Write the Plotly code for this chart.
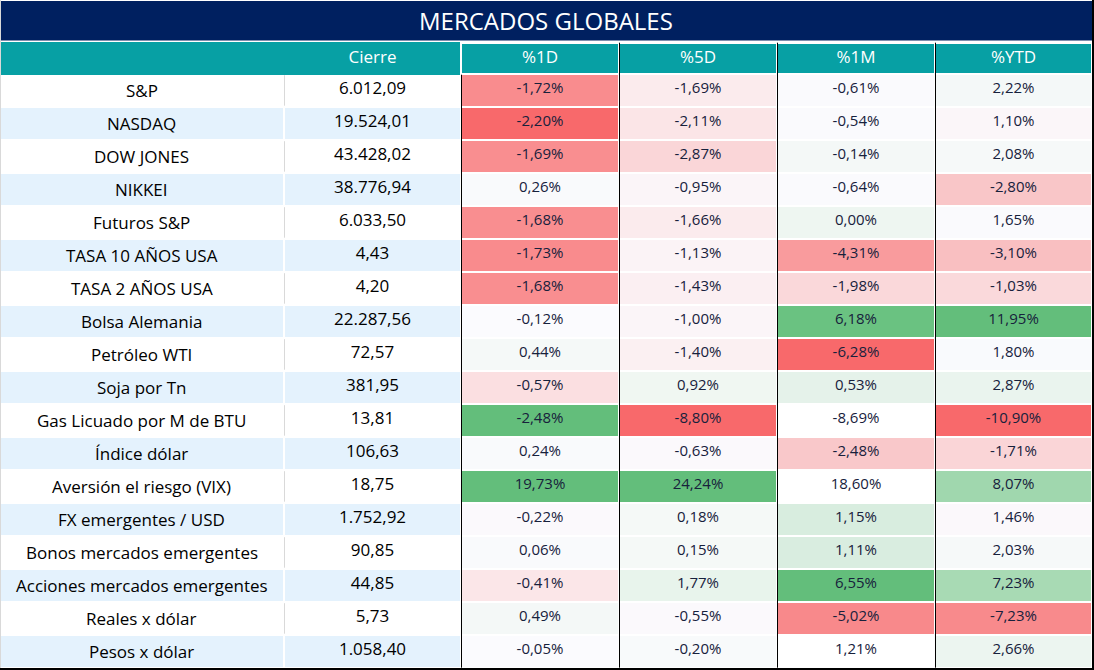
import plotly.graph_objects as go

# ---------------- data ----------------
activos = ["S&P", "NASDAQ", "DOW JONES", "NIKKEI", "Futuros S&P", "TASA 10 AÑOS USA",
           "TASA 2 AÑOS USA", "Bolsa Alemania", "Petróleo WTI", "Soja por Tn",
           "Gas Licuado por M de BTU", "Índice dólar", "Aversión el riesgo (VIX)",
           "FX emergentes / USD", "Bonos mercados emergentes", "Acciones mercados emergentes",
           "Reales x dólar", "Pesos x dólar"]
cierre = [6012.09, 19524.01, 43428.02, 38776.94, 6033.50, 4.43, 4.20, 22287.56, 72.57,
          381.95, 13.81, 106.63, 18.75, 1752.92, 90.85, 44.85, 5.73, 1058.40]
var_1d = [-1.72, -2.20, -1.69, 0.26, -1.68, -1.73, -1.68, -0.12, 0.44, -0.57, -2.48,
          0.24, 19.73, -0.22, 0.06, -0.41, 0.49, -0.05]
var_5d = [-1.69, -2.11, -2.87, -0.95, -1.66, -1.13, -1.43, -1.00, -1.40, 0.92, -8.80,
          -0.63, 24.24, 0.18, 0.15, 1.77, -0.55, -0.20]
var_1m = [-0.61, -0.54, -0.14, -0.64, 0.00, -4.31, -1.98, 6.18, -6.28, 0.53, -8.69,
          -2.48, 18.60, 1.15, 1.11, 6.55, -5.02, 1.21]
var_ytd = [2.22, 1.10, 2.08, -2.80, 1.65, -3.10, -1.03, 11.95, 1.80, 2.87, -10.90,
           -1.71, 8.07, 1.46, 2.03, 7.23, -7.23, 2.66]
encabezados = ["", "Cierre", "%1D", "%5D", "%1M", "%YTD"]
titulo = "MERCADOS GLOBALES"

# ---------------- styles (cell fills) ----------------
fill_1d = ["#F98C8E", "#F8696B", "#F98E90", "#F9FAFC", "#F98E90", "#F98B8D", "#F98E90",
           "#FBFBFE", "#F5F9F8", "#FBDFE1", "#63BE7B", "#F9FAFC", "#63BE7B", "#FBF9FC",
           "#F9FAFC", "#FBE6E8", "#F4F8F7", "#FBFBFE"]
fill_5d = ["#FBEBED", "#FBE5E7", "#FAD6D8", "#FBF5F8", "#FBEBED", "#FBF3F6", "#FBEFF2",
           "#FBF5F8", "#FBF0F2", "#F0F7F2", "#F8696B", "#FBF9FC", "#63BE7B", "#F5F9F7",
           "#F5F9F7", "#E8F4EC", "#FBF9FC", "#F8FAFB"]
fill_1m = ["#FAFAFD", "#FAFAFD", "#F4F8F7", "#FAFAFD", "#EEF6F1", "#F99B9D", "#FAD8DA",
           "#6AC281", "#F8696B", "#E5F2EA", "#FFFFFF", "#F9C8CA", "#FFFFFF", "#D8EDDF",
           "#D9EDE0", "#63BE7B", "#F8898B", "#FFFFFF"]
fill_ytd = ["#F4F8F8", "#FBF6F9", "#F6F9F9", "#F9C6C8", "#FAFAFD", "#F9BFC1", "#FAD9DB",
            "#63BE7B", "#F9FAFD", "#EAF4EE", "#F8696B", "#FAD5D7", "#A0D7AE", "#FBF8FB",
            "#F6F9F9", "#A8DAB4", "#F88A8C", "#ECF5F0"]

NAVY = "#002060"
TEAL = "#07A0A4"
LIGHT = "#E4F2FD"
FONT = "Open Sans"

W, H = 1094, 670
col_px = [284, 177, 158, 158, 158, 157]
TITLE_H = 40.5
TABLE_TOP = 42.7
HEADER_H = 31
ROW_H = 33


def fmt_num(v):
    s = f"{v:,.2f}"
    return s.replace(",", "X").replace(".", ",").replace("X", ".")


def fmt_pct(v):
    return fmt_num(v) + "%"


row_fill = [("#FFFFFF" if i % 2 == 0 else LIGHT) for i in range(len(activos))]

# names are written as annotations over the first column (plotly tables treat "&" as
# markup and would enlarge those rows)
cells_values = [["" for _ in activos],
                [fmt_num(v) for v in cierre],
                [fmt_pct(v) for v in var_1d], [fmt_pct(v) for v in var_5d],
                [fmt_pct(v) for v in var_1m], [fmt_pct(v) for v in var_ytd]]
cells_fill = [row_fill, row_fill, fill_1d, fill_5d, fill_1m, fill_ytd]

x_right = (W - 2) / W
y_top = (H - TABLE_TOP) / H

fig = go.Figure()
fig.add_trace(go.Table(
    domain=dict(x=[0, x_right], y=[0, y_top]),
    columnwidth=col_px,
    header=dict(
        values=encabezados,
        fill_color=TEAL,
        font=dict(family=FONT, size=17, color="white"),
        align="center",
        height=HEADER_H,
        line=dict(color=[TEAL, TEAL, "white", "white", "white", "white"], width=2),
    ),
    cells=dict(
        values=cells_values,
        fill_color=cells_fill,
        font=dict(family=FONT, size=[17, 17, 15, 15, 15, 15],
                  color=["#000000", "#000000", "#17213C", "#17213C", "#17213C", "#17213C"]),
        align="center",
        height=ROW_H,
        line=dict(color="white", width=2),
    ),
))

shapes = []
# title bar
shapes.append(dict(type="rect", xref="paper", yref="paper", x0=0, x1=x_right,
                   y0=(H - TITLE_H) / H, y1=(H - 1) / H, fillcolor=NAVY, line_width=0))
# column boundaries in px
bounds = []
acc = 0
for w in col_px:
    acc += w * x_right * W / sum(col_px)
    bounds.append(round(acc))
rows_top = TABLE_TOP + HEADER_H
rows_bottom = rows_top + ROW_H * len(activos)
# black separators between percentage columns
for i, bx in enumerate(bounds[1:5]):
    y_start = rows_top + 1 if i == 0 else TABLE_TOP
    x = (bx + 0.5) / W
    shapes.append(dict(type="line", xref="paper", yref="paper",
                       x0=x, x1=x, y0=(H - y_start) / H, y1=(H - rows_bottom) / H,
                       line=dict(color="black", width=1)))
# light grey separator between name and close columns (white rows only)
for i in range(0, len(activos), 2):
    y0 = rows_top + i * ROW_H + 1.5
    y1 = rows_top + (i + 1) * ROW_H - 1
    x = (bounds[0] + 0.5) / W
    shapes.append(dict(type="line", xref="paper", yref="paper",
                       x0=x, x1=x, y0=(H - y0) / H, y1=(H - y1) / H,
                       line=dict(color="#D9D9D9", width=1)))
# outer borders
shapes.append(dict(type="rect", xref="paper", yref="paper", x0=x_right, x1=1,
                   y0=0, y1=1, fillcolor="black", line_width=0))
shapes.append(dict(type="rect", xref="paper", yref="paper", x0=0, x1=1,
                   y0=0, y1=2 / H, fillcolor="black", line_width=0))
shapes.append(dict(type="line", xref="paper", yref="paper", x0=0.5 / W, x1=0.5 / W,
                   y0=2 / H, y1=1, line=dict(color="#D9D9D9", width=1)))

annotations = [dict(text=titulo, xref="paper", yref="paper", x=x_right / 2,
                    y=(H - TITLE_H / 2) / H, showarrow=False, xanchor="center",
                    yanchor="middle", font=dict(family=FONT, size=24, color="white"))]
for i, name in enumerate(activos):
    yc = rows_top + (i + 0.5) * ROW_H
    annotations.append(dict(text=name.replace("&", "&amp;"), xref="paper", yref="paper",
                            x=bounds[0] / 2 / W, y=(H - yc) / H, showarrow=False,
                            xanchor="center", yanchor="middle",
                            font=dict(family=FONT, size=17, color="#000000")))

fig.update_layout(
    width=W, height=H,
    margin=dict(l=0, r=0, t=0, b=0),
    paper_bgcolor="white",
    shapes=shapes,
    annotations=annotations,
)

fig.write_html("out.html", config={"displayModeBar": False},
               post_script="document.body.style.margin='0';document.body.style.overflow='hidden';")
